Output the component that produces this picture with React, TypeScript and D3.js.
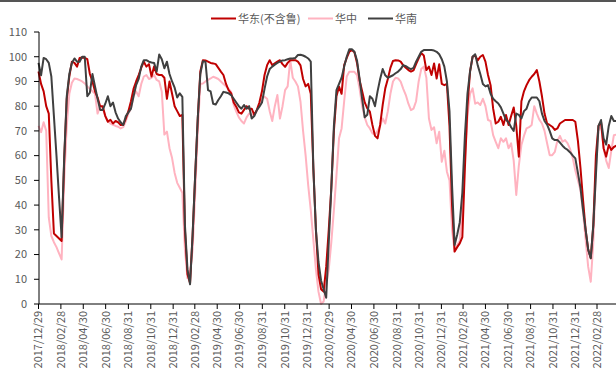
import React from "react";
import * as d3 from "d3";

const START_DATE = "2017/12/29";
const TICK_LABELS = [
  "2017/12/29","2018/02/28","2018/04/30","2018/06/30","2018/08/31","2018/10/31","2018/12/31",
  "2019/02/28","2019/04/30","2019/06/30","2019/08/31","2019/10/31","2019/12/31",
  "2020/02/29","2020/04/30","2020/06/30","2020/08/31","2020/10/31","2020/12/31",
  "2021/02/28","2021/04/30","2021/06/30","2021/08/31","2021/10/31","2021/12/31","2022/02/28",
];
const Y_TICKS = [0, 10, 20, 30, 40, 50, 60, 70, 80, 90, 100, 110];

// 华东(不含鲁) weekly
const EAST = [
  94,89,86,80,77,50,28.5,27.5,26.5,25.5,58,83,92,98,97.5,96,99.5,99.7,99.5,99,
  93,90,86,83.5,80,80,76,73.7,74.5,73,74,73.5,72.4,72.5,75,78,82,87,90,92.6,
  95.5,98,96,97,92,96,93,92.6,92.6,91.5,83,90,85,80,78,76,76.5,30,12,8.5,
  28,52,75,94,98.6,98.5,98,97.5,97.3,97,95.5,94,92.6,89,86.5,85.2,81.5,79.8,77.5,77,
  78.5,80,79,79,76.5,78.5,81.5,86,92.6,96.6,98.6,96.6,97.3,98,98.6,97,95.9,97.5,98.6,98.6,
  98.6,98,96.5,91,88,89,85,55,30,12,6,5,15,30,47,70,84,87.9,85,96.6,
  99.5,102,102.7,101.8,97.5,90.5,86,81.5,79.1,77.8,72.4,68,67,72.4,80.5,87.2,91,95.5,98.3,98.6,
  98.5,98,96.5,95.5,94.6,94,94.5,97,99.3,101.5,100.5,94.6,96,92.6,97.3,91.2,97,89,88.5,89,
  72,40,21.2,23,24.5,27,55,80,94,100,100.5,98.5,100,100.7,98,92.6,88.5,79,73,73.7,
  75.7,72.4,76.4,72.4,76,79.5,72,59.6,82,86,88.5,90.5,91.9,93,94.6,90,84,77,73,72.4,
  71.7,70.4,71,73,73.7,74.4,74.4,74.4,74.4,73.7,66,55,42,30,22,18.5,32,60,72,73.7,
  63,59.6,64.3,62.3,63.5,64,
];

// 华中 weekly
const CENTRAL = [
  72,69.5,73.5,70,35,27.5,25,23,20.5,18,50,72,85,89.5,91.2,91,90.5,90,89.2,88,
  87,86,85,77,80,79,76,74,73,72.5,72,71.7,71,71.5,74,77,79,84,86,84,
  89,92,92.6,91,91.5,92.6,90.6,90,85.8,68.5,69.7,63,59,53,49,47,45,22,10.4,13,
  22,45,70,89,89.2,90,90.6,91.2,91.9,91.5,91,90,89,88,87,85.8,80.5,77.8,75.5,74,
  73,75.5,77,76.5,76.4,78,80.5,83,83.8,83,78,74,80,84.5,75,80,86.5,88,98.6,91.5,
  90,88,81.8,70,60,48,38,26,14,5,0,1,8,14,25,38,52,67,71,82,
  92,93.9,93.9,93.9,92.6,87,80,75.5,72.4,71,69,68.5,70,72,75,73,78,85,90,91.5,
  91.2,89.9,87,84.5,81,78.4,79,82,90,95,96,91.5,75,70.4,71.5,65,69.7,57.5,62,53.5,
  50,30,21.2,23.9,25.5,40,59,76,85,87.2,81,81.5,80.5,83,80,74.4,74,68.3,65.6,63,
  67,65.6,67,63,65,58,44.1,56,64.3,68,71,71.5,72.4,80,77,74.5,73,70,65,60.2,
  60.2,61.5,66,68,65.6,66.3,65,62.5,59,54,50,46,37,26,15,9,25,55,70,72.4,
  63,58,55,62,68.3,68.5,
];

// 华南 weekly
const SOUTH = [
  97.5,92.5,99.5,99,97.5,92,76,60,43,27,59,84,93,97.5,99.3,98,98,100,100,84,
  85.5,93,88,83,78.5,78.5,81,84,80,81.5,77.5,75,73.5,72.4,76,77.5,79,84,88.5,91,
  96,98.6,98.6,98,97.7,97.5,94,100.9,99,95.3,98,93,90,87.5,83.5,85.2,83.8,32,14,8,
  28,52,75,93,98.2,98,86.5,86,81,80.7,82.5,84,85.8,85.5,85.2,84.5,83,81.5,80,79,
  80.5,79,80,75,76,78.4,79.8,81.5,87,92,95,96,96.8,97.5,98,98.5,98.6,99,99.3,99.3,
  99.5,100.7,100.8,100.5,100,99.3,98,55,30,17,9.5,6,2.5,25,47,72,86.5,89,91.5,96,
  100,103,103,102,98.5,91,83,75.5,76.5,84,83,80,86,91,95,92.5,91.5,92,92.5,93.3,
  94,95,96.6,96.2,95.5,95,95.5,98,100,102,102.7,102.7,102.7,102.7,102.5,102,101,99,96,90,
  78,48,23.9,28,33,45,68,85,94,100,101,96.5,93,89,88,88.5,85,83,82,81.1,
  79.5,77,74.5,73.5,71.5,70,77,76.5,75,78,79,82,83.5,83.5,83.5,82,77,74,72.5,70,
  67,66.3,66.3,65.3,64,63,62.3,61.3,60,58.9,53,47,38,30,22,18.5,32,52,72,74.4,
  67,64.5,72,76,74,74,
];

const SERIES_NAMES = ["华东(不含鲁)", "华中", "华南"];
const SERIES_COLORS = ["#C00000", "#FFB3C0", "#404040"];

const W = 616;
const H = 371;

export default function App() {
  const parse = d3.timeParse("%Y/%m/%d");
  const start = parse(START_DATE) as Date;
  const tickDates = TICK_LABELS.map((s) => parse(s) as Date);

  const x = d3
    .scaleTime()
    .domain([start, tickDates[tickDates.length - 1]])
    .range([38.5, 597]);
  const y = d3.scaleLinear().domain([0, 110]).range([304, 32]);

  const weekDate = (i: number) => d3.timeDay.offset(start, 7 * i);
  const line = d3
    .line<number>()
    .x((_, i) => x(weekDate(i)))
    .y((v) => y(v));

  const seriesData = [EAST, CENTRAL, SOUTH];
  const drawOrder = [1, 0, 2];

  const font = "'Noto Sans CJK SC', 'Noto Sans', sans-serif";
  const legendItems = [
    { x0: 211, tx: 238 },
    { x0: 308, tx: 335 },
    { x0: 368, tx: 395 },
  ];

  return (
    <div style={{ position: "fixed", left: 0, top: 0 }}>
      <svg width={W} height={H} style={{ display: "block", background: "#fff" }}>
        <rect x={0} y={0} width={W} height={2} fill="#555" />
        {/* legend */}
        {legendItems.map((it, i) => (
          <g key={i}>
            <line x1={it.x0} x2={it.x0 + 25} y1={18.5} y2={18.5} stroke={SERIES_COLORS[i]} strokeWidth={2} />
            <text x={it.tx} y={22.5} fontSize={11} fill="#595959" fontFamily={font}>
              {SERIES_NAMES[i]}
            </text>
          </g>
        ))}
        {/* lines */}
        {drawOrder.map((si) => (
          <path
            key={si}
            d={line(seriesData[si]) || ""}
            fill="none"
            stroke={SERIES_COLORS[si]}
            strokeWidth={2}
            strokeLinejoin="round"
          />
        ))}
        {/* y axis */}
        <line x1={39} x2={39} y1={y(110)} y2={y(0)} stroke="#000" strokeWidth={1} />
        {Y_TICKS.map((t) => (
          <g key={t}>
            <line x1={34} x2={39} y1={y(t)} y2={y(t)} stroke="#000" strokeWidth={1} />
            <text
              x={27}
              y={y(t)}
              dy="0.35em"
              textAnchor="end"
              fontSize={11}
              fill="#595959"
              fontFamily={font}
            >
              {t}
            </text>
          </g>
        ))}
        {/* x axis */}
        <line x1={39} x2={W} y1={304} y2={304} stroke="#000" strokeWidth={1} />
        {tickDates.map((d, i) => {
          const px = x(d);
          return (
            <g key={i}>
              <line x1={px} x2={px} y1={304} y2={309} stroke="#000" strokeWidth={1} />
              <text
                transform={`translate(${px},${311}) rotate(-90)`}
                dy="0.35em"
                textAnchor="end"
                fontSize={11}
                fill="#595959"
                fontFamily={font}
              >
                {TICK_LABELS[i]}
              </text>
            </g>
          );
        })}
      </svg>
    </div>
  );
}
